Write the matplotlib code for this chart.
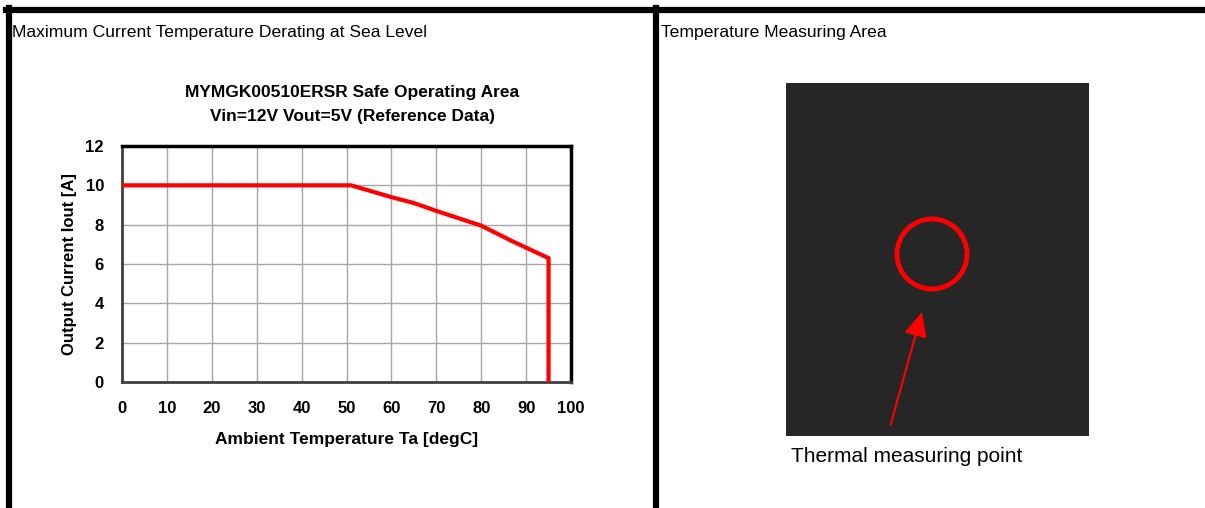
import matplotlib.pyplot as plt
from matplotlib.patches import Rectangle, Circle, FancyArrowPatch
from matplotlib.lines import Line2D

plt.rcParams['font.family'] = ['Liberation Sans', 'DejaVu Sans']

# derating curve
temp = [0, 51, 60, 65, 70, 80, 87, 95, 95]
current = [10, 10, 9.4, 9.1, 8.7, 7.95, 7.15, 6.3, 0]
x_ticks = list(range(0, 101, 10))
y_ticks = list(range(0, 13, 2))

W, H = 1205, 508
fig = plt.figure(figsize=(W / 100, H / 100), dpi=100)

def fx(px):
    return px / W

def fy(py):
    return 1 - py / H

# panel frame lines
fig.add_artist(Line2D([fx(6), fx(1205)], [fy(10), fy(10)], color='black', lw=4.5))
fig.add_artist(Line2D([fx(9), fx(9)], [fy(8), fy(508)], color='black', lw=4.5))
fig.add_artist(Line2D([fx(656), fx(656)], [fy(8), fy(508)], color='black', lw=4.5))

fig.text(fx(12), fy(32), 'Maximum Current Temperature Derating at Sea Level',
         fontsize=12.6, va='center', ha='left')
fig.text(fx(661), fy(32), 'Temperature Measuring Area',
         fontsize=12.6, va='center', ha='left')

# left: derating chart
ax = fig.add_axes([fx(122), fy(382), fx(571 - 122), (382 - 146) / H])
ax.plot(temp, current, color='#ff0000', lw=3, solid_joinstyle='miter', zorder=3)
ax.set_xlim(0, 100)
ax.set_ylim(0, 12)
ax.set_xticks(x_ticks)
ax.set_yticks(y_ticks)
ax.grid(True, color='#a6a6a6', lw=1)
ax.tick_params(length=0, labelsize=12)
ax.tick_params(axis='x', pad=14)
ax.tick_params(axis='y', pad=13)
for lab in ax.get_xticklabels() + ax.get_yticklabels():
    lab.set_fontweight('bold')
for side in ['top', 'right']:
    ax.spines[side].set_color('black')
    ax.spines[side].set_linewidth(2.5)
for side in ['left', 'bottom']:
    ax.spines[side].set_color('#404040')
    ax.spines[side].set_linewidth(2)
ax.set_xlabel('Ambient Temperature Ta [degC]', fontsize=12.5, fontweight='bold', labelpad=11)
ax.set_ylabel('Output Current Iout [A]', fontsize=12, fontweight='bold', labelpad=6)

fig.text(fx(352), fy(92), 'MYMGK00510ERSR Safe Operating Area',
         fontsize=12.5, fontweight='bold', ha='center', va='center')
fig.text(fx(352), fy(116), 'Vin=12V Vout=5V (Reference Data)',
         fontsize=12.5, fontweight='bold', ha='center', va='center')

# right: measuring area sketch
ax2 = fig.add_axes([0, 0, 1, 1])
ax2.set_xlim(0, W)
ax2.set_ylim(H, 0)
ax2.axis('off')
ax2.add_patch(Rectangle((786, 83), 1089 - 786, 436 - 83, facecolor='#262626', edgecolor='none'))
ax2.add_patch(Circle((932, 254), 35, facecolor='none', edgecolor='#ff0000', lw=3.5))
ax2.add_patch(FancyArrowPatch((890.5, 425), (922, 312), arrowstyle='-|>,head_length=15,head_width=7',
                              color='#ff0000', lw=1.5, mutation_scale=1, shrinkA=0, shrinkB=0))
ax2.text(791, 456, 'Thermal measuring point', fontsize=15, va='center', ha='left')

fig.savefig('out.png', dpi=100)
